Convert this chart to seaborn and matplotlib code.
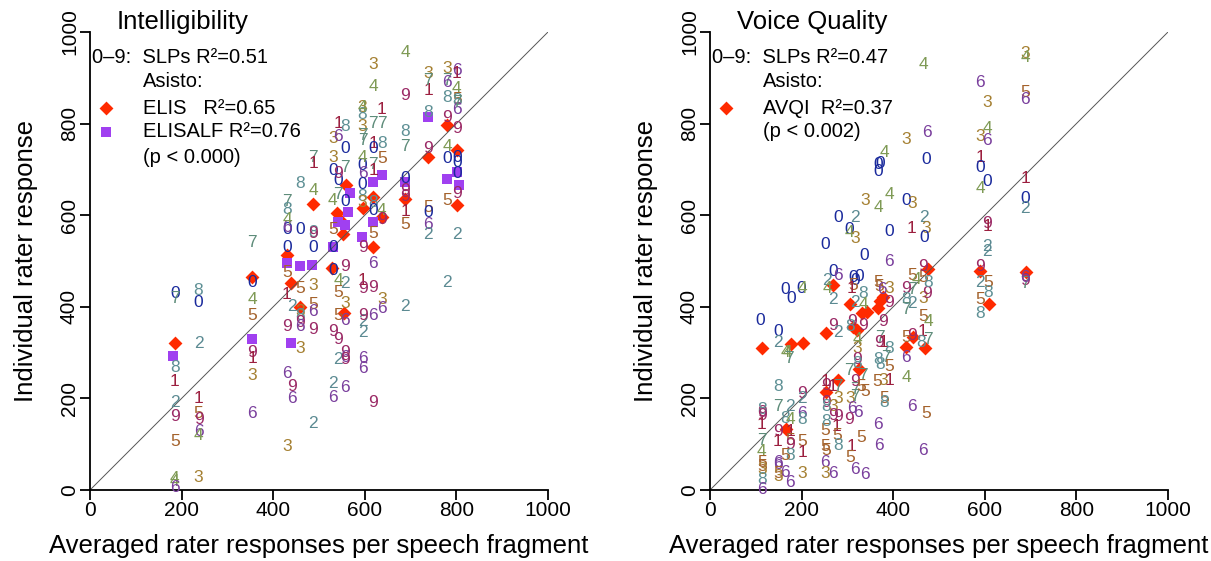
import matplotlib
matplotlib.use("Agg")
import matplotlib.pyplot as plt
import seaborn as sns
import pandas as pd

sns.set_style("ticks")
plt.rcParams['font.family'] = ['Liberation Sans', 'DejaVu Sans']
plt.rcParams['text.color'] = 'black'
plt.rcParams['axes.labelcolor'] = 'black'
plt.rcParams['xtick.color'] = 'black'
plt.rcParams['ytick.color'] = 'black'

# colours of the 0-9 rater digits
digit_colors = ['#1a2a9c', '#9c1f3f', '#5b8a92', '#a58032', '#7e9a55',
                '#a4622c', '#7a3f9d', '#5e8c7a', '#5e9095', '#9b2a66']

# ---- Intelligibility: individual SLP ratings (digit, x, y) ----
int_digit = [0, 7, 8, 1, 2, 9, 5, 4, 4, 6,
             8, 0, 2, 1, 5, 9, 6, 4, 3,
             0, 4, 5, 9, 1, 3, 6, 7,
             5, 1, 9, 6, 3, 0, 7, 8, 6, 4, 0,
             2, 9, 6,
             5, 3, 8, 9, 6, 3, 0, 8,
             5, 6, 9, 3, 2, 8, 0, 4, 7, 1, 9,
             0, 9, 2, 6, 5, 3, 0, 4, 3, 0,
             4, 5, 5, 9, 2, 1, 6, 7, 0, 9,
             9, 3, 6, 9, 6, 9, 8, 0, 0, 7, 6, 2,
             1, 9, 2, 2, 9, 6, 6, 3, 8, 3, 7, 7, 0, 4, 6, 0, 8, 3, 4, 9,
             9, 6, 6, 9, 3, 4, 7, 1, 0, 7, 1, 8, 0, 5,
             3, 6, 1, 7, 8, 5, 4, 9,
             2, 9, 4, 8, 7, 0, 9, 1, 5, 9,
             3, 1, 7, 8, 9, 5, 0, 6, 2,
             3, 7, 6, 8, 9, 4, 0, 5, 2,
             6, 1, 4, 5, 8, 6, 9, 0, 0, 9, 2, 0, 7]
int_x = [185, 185, 185, 185, 185, 185, 185, 185, 185, 185,
         237, 237, 237, 237, 237, 237, 237, 237, 237,
         354, 354, 354, 354, 354, 354, 354, 354,
         430, 430, 430, 430, 430, 430, 430, 430, 430, 430, 430,
         440, 440, 440,
         458, 458, 458, 458, 458, 458, 458, 458,
         487, 487, 487, 487, 487, 487, 487, 487, 487, 487, 487,
         530, 530, 530, 530, 530, 530, 530, 530, 530, 530,
         542, 542, 542, 542, 542, 542, 542, 542, 542, 542,
         557, 557, 557, 557, 557, 557, 557, 557, 557, 557, 557, 557,
         595, 595, 595, 595, 595, 595, 595, 595, 595, 595, 595, 595, 595, 595, 595, 595, 595, 595, 595, 595,
         618, 618, 618, 618, 618, 618, 618, 618, 618, 618, 618, 618, 618, 618,
         637, 637, 637, 637, 637, 637, 637, 637,
         688, 688, 688, 688, 688, 688, 688, 688, 688, 688,
         738, 738, 738, 738, 738, 738, 738, 738, 738,
         780, 780, 780, 780, 780, 780, 780, 780, 780,
         801, 801, 801, 801, 801, 801, 801, 801, 801, 801, 801, 801, 801]
int_y = [430, 418, 268, 236, 190, 160, 105, 25, 18, 5,
         436, 410, 319, 200, 168, 153, 127, 120, 28,
         454, 415, 382, 301, 288, 249, 168, 541,
         474, 426, 356, 255, 94, 568, 629, 613, 574, 590, 530,
         400, 225, 200,
         439, 390, 380, 365, 358, 310, 568, 670,
         404, 390, 351, 447, 146, 563, 530, 655, 727, 713, 560,
         480, 345, 233, 203, 568, 768, 698, 633, 727, 530,
         458, 432, 382, 328, 284, 801, 771, 646, 676, 690,
         487, 408, 369, 300, 290, 284, 793, 746, 629, 705, 224, 450,
         458, 440, 367, 343, 382, 288, 266, 836, 820, 793, 775, 764, 709, 727, 692, 666, 640, 627, 836, 530,
         443, 382, 495, 192, 928, 880, 801, 757, 746, 711, 698, 627, 611, 560,
         415, 397, 830, 801, 757, 724, 611, 590,
         400, 862, 956, 782, 750, 681, 655, 607, 579, 640,
         910, 873, 895, 825, 746, 616, 605, 579, 557,
         921, 895, 890, 856, 814, 749, 724, 633, 454,
         917, 910, 877, 852, 850, 830, 790, 727, 716, 648, 557, 690, 845]

# Asisto ELIS (diamonds) and ELISALF (squares)
elis_x = [185, 354, 430, 439, 458, 487, 528, 539, 555, 559, 596, 618, 618, 637, 688, 738, 780, 801, 801, 552, 545]
elis_y = [321, 465, 513, 452, 400, 624, 485, 605, 386, 666, 616, 640, 530, 596, 635, 727, 797, 742, 622, 560, 590]
elisalf_x = [181, 354, 439, 458, 430, 541, 557, 563, 568, 530, 594, 618, 618, 637, 688, 738, 780, 801, 805, 485]
elisalf_y = [293, 330, 321, 489, 495, 585, 579, 607, 648, 530, 552, 585, 672, 687, 672, 814, 679, 694, 666, 491]

# ---- Voice quality: individual SLP ratings (digit, x, y) ----
vq_digit = [4, 3, 4, 6, 3, 5, 6, 6, 3, 3, 6, 4, 4, 0, 0, 0, 0, 1, 0, 0, 4, 1, 0, 2,
            3, 4, 4, 0, 3, 2, 0, 2, 0, 4, 3, 0, 1, 3, 0, 9, 1, 2, 0,
            0, 6, 2, 0, 6, 0, 0, 0, 2, 4, 2, 0, 0, 0, 4, 0, 0, 2, 4, 4, 7, 9, 2,
            5, 1, 8, 2, 4, 5, 5, 6, 3, 9, 9, 9, 9, 8, 7, 9, 1, 8, 8, 8, 7, 5, 5, 3, 1,
            3, 4, 9, 7, 7, 8, 9, 1, 1, 7, 9, 8, 3, 3, 3, 7, 7, 9, 5, 5, 6, 6, 9, 9, 1,
            9, 5, 8, 5, 8, 5, 5, 1, 5, 5, 6, 3, 6, 6, 6, 6, 6, 5, 8, 4, 6, 5, 6,
            6, 5, 9, 1, 7, 8, 5, 4, 9, 7, 8, 7, 2, 3, 9, 5, 4, 5, 8, 9,
            9, 2, 5, 8, 5, 8, 9, 7, 6,
            8, 7, 2, 9, 2, 6, 8, 8, 4, 9, 8, 9, 1, 7, 4, 5, 5, 3, 8, 6,
            9, 1, 1, 5, 9, 5, 1, 8, 5, 6, 6, 5, 6, 3, 6, 3]
vq_x = [465, 688, 688, 590, 605, 688, 688, 473, 428, 590, 605, 605, 380, 367, 372, 367, 473, 590, 590, 605, 590, 688, 688, 688,
        338, 391, 367, 428, 441, 317, 279, 467, 304, 304, 317, 391, 441, 473, 467, 605, 605, 605, 251,
        336, 391, 605, 268, 279, 312, 325, 318, 255, 256, 268, 164, 177, 200, 202, 109, 148, 148, 164, 170, 172, 268, 279,
        312, 310, 334, 317, 334, 367, 370, 375, 391, 391, 378, 310, 334, 306, 371, 369, 378, 391, 367, 371, 385, 391, 364, 378, 391,
        321, 321, 321, 304, 334, 321, 253, 253, 268, 279, 253, 253, 268, 279, 306, 317, 317, 317, 330, 338, 310, 323, 268, 279, 277,
        304, 251, 253, 277, 279, 251, 253, 310, 306, 330, 251, 251, 268, 317, 338, 367, 369, 380, 380, 428, 441, 473, 465,
        428, 428, 441, 465, 476, 461, 465, 476, 428, 441, 428, 428, 441, 465, 473, 441, 450, 465, 476, 465,
        590, 590, 607, 607, 590, 590, 688, 688, 688,
        148, 148, 175, 201, 201, 201, 201, 164, 175, 113, 113, 113, 113, 113, 113, 113, 113, 113, 113, 113,
        148, 175, 148, 175, 175, 201, 201, 175, 164, 148, 148, 148, 164, 148, 175, 201]
vq_y = [928, 954, 945, 889, 846, 867, 853, 780, 766, 771, 764, 790, 736, 710, 712, 695, 722, 727, 705, 673, 659, 681, 637, 615,
        633, 646, 616, 633, 626, 596, 594, 594, 568, 562, 550, 564, 572, 572, 552, 581, 576, 531, 535,
        513, 498, 520, 476, 469, 465, 467, 458, 458, 441, 415, 437, 419, 439, 439, 371, 345, 321, 301, 300, 288, 360, 343,
        447, 440, 430, 410, 405, 454, 445, 438, 441, 410, 367, 367, 360, 356, 334, 321, 323, 310, 284, 273, 290, 269, 236, 240, 240,
        310, 328, 284, 262, 251, 277, 229, 236, 226, 225, 190, 183, 183, 200, 200, 204, 219, 236, 225, 214, 179, 170, 162, 160, 138,
        153, 131, 150, 118, 98, 94, 87, 94, 70, 114, 61, 37, 37, 44, 33, 142, 98, 200, 190, 245, 182, 168, 87,
        290, 334, 338, 345, 328, 321, 378, 367, 441, 437, 415, 395, 408, 419, 430, 469, 460, 463, 452, 487,
        487, 454, 454, 432, 415, 386, 458, 450, 465,
        225, 182, 182, 210, 200, 168, 155, 157, 155, 170, 176, 163, 142, 109, 83, 59, 52, 45, 22, 0,
        127, 127, 105, 109, 100, 105, 81, 76, 75, 61, 55, 37, 39, 30, 17, 37]

# Asisto AVQI (diamonds)
avqi_x = [113, 177, 203, 166, 253, 268, 253, 279, 306, 332, 342, 312, 321, 325, 378, 372, 367, 428, 443, 469, 476, 590, 609, 690]
avqi_y = [310, 319, 321, 133, 343, 448, 214, 240, 406, 386, 388, 356, 349, 264, 421, 413, 397, 312, 334, 310, 482, 478, 406, 476]

DIAMOND = '#ff2a00'
SQUARE = '#a040f0'
W, H = 1211, 561

fig = plt.figure(figsize=(W / 100, H / 100), dpi=100)
ax1 = fig.add_axes([90 / W, 1 - 490 / H, 458 / W, 458 / H])
ax2 = fig.add_axes([710 / W, 1 - 490 / H, 458 / W, 458 / H])


def draw_digits(ax, digits, xs, ys):
    for d, x, y in zip(digits, xs, ys):
        ax.text(x, y, str(d), color=digit_colors[d], fontsize=12.5,
                ha='center', va='center')


def style_axes(ax, title, r2):
    ax.set_xlim(0, 1000)
    ax.set_ylim(0, 1000)
    ax.plot([0, 1000], [0, 1000], color='#555555', lw=0.7)
    ax.set_xticks([0, 200, 400, 600, 800, 1000])
    ax.set_yticks([0, 200, 400, 600, 800, 1000])
    ax.tick_params(labelsize=15, length=7, width=1.3, color='black', pad=1)
    for lab in ax.get_yticklabels():
        lab.set_rotation(90)
        lab.set_va('center')
    sns.despine(ax=ax)
    for sp in ['left', 'bottom']:
        ax.spines[sp].set_linewidth(1.3)
        ax.spines[sp].set_color('black')
    ax.set_xlabel('Averaged rater responses per speech fragment', fontsize=18.5, labelpad=10)
    ax.set_ylabel('Individual rater response', fontsize=18.5, labelpad=16)
    ax.text(0.059, 1.022, title, transform=ax.transAxes, fontsize=18.5, va='center')
    ax.text(0.004, 0.945, '0–9:  SLPs ' + r2, transform=ax.transAxes, fontsize=14.5, va='center')
    ax.text(0.116, 0.891, 'Asisto:', transform=ax.transAxes, fontsize=14.5, va='center')


# left panel
draw_digits(ax1, int_digit, int_x, int_y)
sns.scatterplot(x=elis_x, y=elis_y, marker='D', color=DIAMOND, s=50, linewidth=0, ax=ax1)
sns.scatterplot(x=elisalf_x, y=elisalf_y, marker='s', color=SQUARE, s=42, linewidth=0, ax=ax1)
style_axes(ax1, 'Intelligibility', 'R²=0.51')
ax1.scatter([0.035], [0.834], marker='D', color=DIAMOND, s=50, linewidth=0, transform=ax1.transAxes, clip_on=False)
ax1.scatter([0.035], [0.782], marker='s', color=SQUARE, s=42, linewidth=0, transform=ax1.transAxes, clip_on=False)
ax1.text(0.116, 0.834, 'ELIS   R²=0.65', transform=ax1.transAxes, fontsize=14.5, va='center')
ax1.text(0.116, 0.782, 'ELISALF R²=0.76', transform=ax1.transAxes, fontsize=14.5, va='center')
ax1.text(0.116, 0.725, '(p < 0.000)', transform=ax1.transAxes, fontsize=14.5, va='center')

# right panel
draw_digits(ax2, vq_digit, vq_x, vq_y)
sns.scatterplot(x=avqi_x, y=avqi_y, marker='D', color=DIAMOND, s=50, linewidth=0, ax=ax2)
style_axes(ax2, 'Voice Quality', 'R²=0.47')
ax2.scatter([0.035], [0.834], marker='D', color=DIAMOND, s=50, linewidth=0, transform=ax2.transAxes, clip_on=False)
ax2.text(0.116, 0.834, 'AVQI  R²=0.37', transform=ax2.transAxes, fontsize=14.5, va='center')
ax2.text(0.116, 0.782, '(p < 0.002)', transform=ax2.transAxes, fontsize=14.5, va='center')

fig.savefig('out.png', dpi=100)
